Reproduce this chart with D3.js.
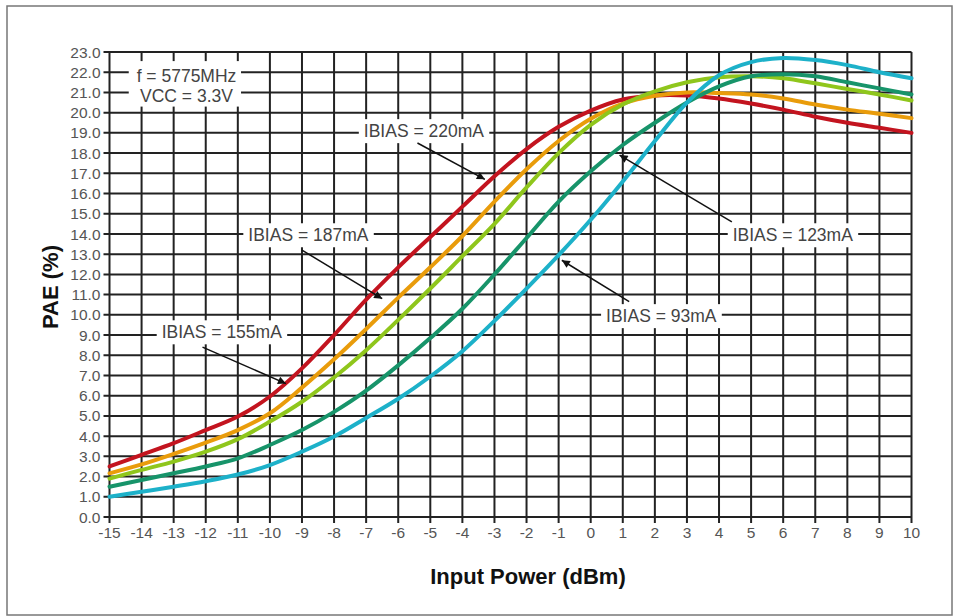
<!DOCTYPE html>
<html>
<head>
<meta charset="utf-8">
<script src="https://cdn.jsdelivr.net/npm/d3@7"></script>
<style>
  body { margin: 0; background: #fff; }
  text { font-family: Arial, "Liberation Sans", sans-serif; }
</style>
</head>
<body>
<div id="chart"></div>
<script>
// input power (dBm) and PAE (%) per bias current
var inputPower = [-15, -14, -13, -12, -11, -10, -9, -8, -7, -6, -5, -4, -3, -2, -1, 0, 1, 2, 3, 4, 5, 6, 7, 8, 9, 10];
var pae220 = [2.5, 3.07, 3.65, 4.3, 4.97, 5.96, 7.35, 9.0, 10.75, 12.35, 13.85, 15.35, 16.85, 18.2, 19.3, 20.1, 20.65, 20.85, 20.85, 20.7, 20.45, 20.15, 19.8, 19.5, 19.25, 19.0];
var pae187 = [2.16, 2.6, 3.12, 3.68, 4.3, 5.13, 6.4, 7.8, 9.3, 10.85, 12.35, 13.9, 15.6, 17.2, 18.6, 19.7, 20.45, 20.84, 21.0, 20.97, 20.9, 20.7, 20.4, 20.15, 19.95, 19.73];
var pae155 = [1.9, 2.33, 2.74, 3.23, 3.85, 4.72, 5.7, 6.9, 8.25, 9.75, 11.3, 12.9, 14.5, 16.3, 18.0, 19.4, 20.4, 21.05, 21.5, 21.75, 21.8, 21.7, 21.45, 21.17, 20.9, 20.6];
var pae123 = [1.5, 1.83, 2.16, 2.5, 2.9, 3.56, 4.3, 5.2, 6.25, 7.5, 8.85, 10.3, 12.0, 13.8, 15.6, 17.1, 18.4, 19.5, 20.5, 21.3, 21.8, 21.9, 21.8, 21.5, 21.2, 20.9];
var pae93 = [1.0, 1.25, 1.5, 1.77, 2.1, 2.57, 3.23, 3.98, 4.9, 5.85, 6.95, 8.2, 9.7, 11.3, 12.95, 14.7, 16.6, 18.6, 20.5, 21.85, 22.5, 22.7, 22.6, 22.35, 22.0, 21.7];
var yTicks = [0, 1, 2, 3, 4, 5, 6, 7, 8, 9, 10, 11, 12, 13, 14, 15, 16, 17, 18, 19, 20, 21, 22, 23];

var seriesNames = ["220mA", "187mA", "155mA", "123mA", "93mA"];
var seriesValues = [pae220, pae187, pae155, pae123, pae93];
var colors = ["#c3141f", "#e99c0b", "#8fc61c", "#17946a", "#1db1c9"];

// annotations: label, anchor point (dBm, %), arrow tail and tip (dBm, %)
var notes = [
  { text: "IBIAS = 220mA", at: [-5.2, 19.1], from: [-5.4, 18.5], to: [-3.3, 16.7] },
  { text: "IBIAS = 187mA", at: [-8.8, 13.95], from: [-9.0, 13.2], to: [-6.5, 10.8] },
  { text: "IBIAS = 155mA", at: [-11.5, 9.15], from: [-12.1, 8.4], to: [-9.5, 6.6] },
  { text: "IBIAS = 123mA", at: [6.3, 13.95], from: [4.4, 14.6], to: [0.9, 17.9] },
  { text: "IBIAS = 93mA", at: [2.2, 9.95], from: [1.2, 10.65], to: [-0.9, 12.7] }
];
var conditions = ["f = 5775MHz", "VCC = 3.3V"];

var width = 954, height = 616;
var margin = { top: 52, right: 42.5, bottom: 99, left: 109.5 };
var w = width - margin.left - margin.right,
    h = height - margin.top - margin.bottom;

var svg = d3.select("#chart").append("svg")
    .attr("width", width)
    .attr("height", height);

// outer frame
svg.append("rect")
    .attr("x", 7).attr("y", 6).attr("width", 945).attr("height", 609)
    .attr("fill", "none").attr("stroke", "#777").attr("stroke-width", 1.5);

var g = svg.append("g")
    .attr("transform", "translate(" + margin.left + "," + margin.top + ")");

var x = d3.scaleLinear().domain([-15, 10]).range([0, w]);
var y = d3.scaleLinear().domain([0, 23]).range([h, 0]);

var gridColor = "#222";

// grid
g.append("g").selectAll("line.v")
    .data(inputPower)
    .enter().append("line")
    .attr("x1", function (d) { return x(d); })
    .attr("x2", function (d) { return x(d); })
    .attr("y1", 0).attr("y2", h + 6)
    .attr("stroke", gridColor).attr("stroke-width", 2);

g.append("g").selectAll("line.h")
    .data(yTicks)
    .enter().append("line")
    .attr("x1", -6).attr("x2", w)
    .attr("y1", function (d) { return y(d); })
    .attr("y2", function (d) { return y(d); })
    .attr("stroke", gridColor).attr("stroke-width", 2);

// tick labels
g.append("g").selectAll("text")
    .data(yTicks)
    .enter().append("text")
    .attr("x", -9)
    .attr("y", function (d) { return y(d); })
    .attr("dy", "0.36em")
    .attr("text-anchor", "end")
    .attr("font-size", 15.5)
    .attr("fill", "#555")
    .text(d3.format(".1f"));

g.append("g").selectAll("text")
    .data(inputPower)
    .enter().append("text")
    .attr("x", function (d) { return x(d); })
    .attr("y", h + 21)
    .attr("text-anchor", "middle")
    .attr("font-size", 15.5)
    .attr("fill", "#555")
    .text(function (d) { return d; });

// label boxes (drawn before the curves)
function box(cx, cy, txt, size, anchor) {
    var t = g.append("text")
        .attr("x", cx).attr("y", cy)
        .attr("dy", "0.36em")
        .attr("text-anchor", anchor || "middle")
        .attr("font-size", size)
        .attr("fill", "#444")
        .text(txt);
    var b = t.node().getBBox();
    g.insert("rect", function () { return t.node(); })
        .attr("x", b.x - 5).attr("y", b.y - 2)
        .attr("width", b.width + 10).attr("height", b.height + 4)
        .attr("fill", "#fff");
}

notes.forEach(function (n) {
    box(x(n.at[0]), y(n.at[1]), n.text, 17.5);
});

// conditions box
var cx0 = x(-12.6);
var cbox = g.append("rect").attr("fill", "#fff");
conditions.forEach(function (c, i) {
    g.append("text")
        .attr("x", cx0).attr("y", y(22 - i) + 3)
        .attr("dy", "0.36em")
        .attr("text-anchor", "middle")
        .attr("font-size", 17.5)
        .attr("fill", "#444")
        .text(c);
});
cbox.attr("x", x(-14.4)).attr("y", y(22.55))
    .attr("width", x(-10.9) - x(-14.4)).attr("height", y(20.3) - y(22.55));

// curves
var line = d3.line()
    .x(function (d, i) { return x(inputPower[i]); })
    .y(function (d) { return y(d); })
    .curve(d3.curveCatmullRom.alpha(0.5));

g.append("g").selectAll("path")
    .data(seriesValues)
    .enter().append("path")
    .attr("d", line)
    .attr("fill", "none")
    .attr("stroke", function (d, i) { return colors[i]; })
    .attr("stroke-width", 4)
    .attr("stroke-linejoin", "round")
    .attr("stroke-linecap", "round");

// arrows
svg.append("defs").append("marker")
    .attr("id", "head")
    .attr("viewBox", "0 0 10 10")
    .attr("refX", 10).attr("refY", 5)
    .attr("markerWidth", 10).attr("markerHeight", 8)
    .attr("markerUnits", "userSpaceOnUse")
    .attr("orient", "auto")
    .append("path")
    .attr("d", "M0,0 L10,5 L0,10 Z")
    .attr("fill", "#111");

g.append("g").selectAll("line")
    .data(notes)
    .enter().append("line")
    .attr("x1", function (d) { return x(d.from[0]); })
    .attr("y1", function (d) { return y(d.from[1]); })
    .attr("x2", function (d) { return x(d.to[0]); })
    .attr("y2", function (d) { return y(d.to[1]); })
    .attr("stroke", "#111")
    .attr("stroke-width", 1.5)
    .attr("marker-end", "url(#head)");

// axis titles
svg.append("text")
    .attr("x", 528).attr("y", 584)
    .attr("text-anchor", "middle")
    .attr("font-size", 22)
    .attr("font-weight", "bold")
    .attr("fill", "#111")
    .text("Input Power (dBm)");

svg.append("text")
    .attr("transform", "translate(58,287) rotate(-90)")
    .attr("text-anchor", "middle")
    .attr("font-size", 22)
    .attr("font-weight", "bold")
    .attr("fill", "#111")
    .text("PAE (%)");
</script>
</body>
</html>
